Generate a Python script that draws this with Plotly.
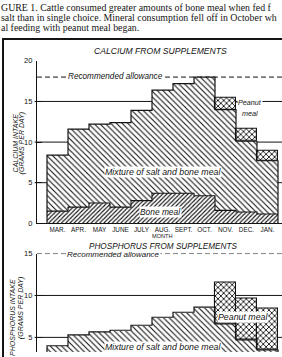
import plotly.graph_objects as go

W, H = 282, 357


def px(x):
    return x / W


def py(y):
    return 1 - y / H


# ---------------- data ----------------
months = ["MAR.", "APR.", "MAY", "JUNE", "JULY", "AUG.", "SEPT.", "OCT.", "NOV.", "DEC.", "JAN."]
ca_bone_meal = [1.5, 2.0, 2.5, 2.0, 2.8, 3.7, 3.7, 3.4, 1.6, 1.4, 1.15]
ca_mixture_top = [8.4, 11.6, 12.2, 12.4, 13.9, 16.4, 17.2, 18.0, 14.0, 10.1, 7.7]
ca_peanut_top = [None, None, None, None, None, None, None, None, 15.5, 11.6, 8.9]
p_mixture_top = [4.0, 5.3, 5.65, 5.85, 6.45, 7.4, 8.0, 8.6, 6.6, 4.7, 3.5]
p_peanut_top = [None, None, None, None, None, None, None, None, 11.5, 9.6, 8.4]
ca_recommended = 18
p_recommended = 15
ca_ticks = [0, 5, 10, 15, 20]
ca_grid = [5, 10, 15]
p_ticks = [5, 10, 15]
p_grid = [5, 10]

# caption lines as visible in the (cropped) page
caption = [
    "GURE 1. Cattle consumed greater amounts of bone meal when fed f",
    "salt than in single choice. Mineral consumption fell off in October wh",
    "al feeding with peanut meal began.",
]

n = len(months)
idx = list(range(n))
INK = "#141414"
SANS = "Liberation Sans"


def pattern(shape, size, sol):
    return dict(shape=shape, size=size, solidity=sol, fgcolor=INK,
                bgcolor="white", fillmode="replace")


fig = go.Figure()


def add_panel(xa, ya, bone, mix_top, peanut_top):
    base_mix = bone if bone is not None else [0] * n
    if bone is not None:
        fig.add_trace(go.Bar(x=idx, y=bone, base=[0] * n, width=1, xaxis=xa, yaxis=ya,
                             marker=dict(color="white", line=dict(width=0),
                                         pattern=pattern("/", 3, 0.36)),
                             showlegend=False, hoverinfo="skip"))
    fig.add_trace(go.Bar(x=idx, y=[t - b for t, b in zip(mix_top, base_mix)], base=base_mix,
                         width=1, xaxis=xa, yaxis=ya,
                         marker=dict(color="white", line=dict(width=0),
                                     pattern=pattern("\\", 4, 0.28)),
                         showlegend=False, hoverinfo="skip"))
    pk = [i for i, v in enumerate(peanut_top) if v is not None]
    fig.add_trace(go.Bar(x=pk, y=[peanut_top[i] - mix_top[i] for i in pk],
                         base=[mix_top[i] for i in pk], width=1, xaxis=xa, yaxis=ya,
                         marker=dict(color="white", line=dict(width=1.1, color=INK),
                                     pattern=pattern("x", 4, 0.4)),
                         showlegend=False, hoverinfo="skip"))
    # outline of the mixture staircase
    xs = [-0.5, -0.5] + [i + 0.5 for i in range(n)]
    ys = [0] + list(mix_top) + [0]
    fig.add_trace(go.Scatter(x=xs, y=ys, mode="lines", line=dict(color=INK, width=1.2, shape="hv"),
                             xaxis=xa, yaxis=ya, showlegend=False, hoverinfo="skip"))
    if bone is not None:
        xs = [i - 0.5 for i in range(n)] + [n - 0.5]
        ys = list(bone) + [bone[-1]]
        fig.add_trace(go.Scatter(x=xs, y=ys, mode="lines", line=dict(color=INK, width=1.1, shape="hv"),
                                 xaxis=xa, yaxis=ya, showlegend=False, hoverinfo="skip"))


add_panel("x", "y", ca_bone_meal, ca_mixture_top, ca_peanut_top)
add_panel("x2", "y2", None, p_mixture_top, p_peanut_top)

# gridlines
for v in ca_grid:
    fig.add_shape(type="line", xref="x domain", yref="y", x0=-0.01, x1=1, y0=v, y1=v,
                  layer="below", line=dict(color=INK, width=1))
for v in p_grid:
    fig.add_shape(type="line", xref="x2 domain", yref="y2", x0=-0.01, x1=1, y0=v, y1=v,
                  layer="below", line=dict(color=INK, width=1))

# recommended allowance lines
fig.add_shape(type="line", xref="x domain", yref="y", x0=0, x1=1, y0=ca_recommended, y1=ca_recommended,
              layer="below", line=dict(color=INK, width=1, dash="5px,3px"))
fig.add_shape(type="line", xref="x2 domain", yref="y2", x0=0, x1=1, y0=p_recommended, y1=p_recommended,
              layer="below", line=dict(color=INK, width=1, dash="5px,3px"))

# box border
fig.add_shape(type="path", xref="paper", yref="paper",
              path=f"M {px(3)} {py(400)} L {px(3)} {py(36)} L {px(300)} {py(36)}",
              line=dict(color=INK, width=2))
# leader from peanut label to the bar
fig.add_shape(type="line", xref="paper", yref="paper", x0=px(236.5), x1=px(240.5),
              y0=py(101), y1=py(101), line=dict(color=INK, width=1))

# axes
x_range = [-0.5 - 10 / 21, 10.5 + 4 / 21]
axis_common = dict(showgrid=False, zeroline=False, linecolor=INK, linewidth=1.2)
fig.update_layout(
    width=W, height=H, margin=dict(l=0, r=0, t=0, b=0),
    paper_bgcolor="white", plot_bgcolor="rgba(0,0,0,0)",
    barmode="overlay", bargap=0,
    xaxis=dict(domain=[px(37), 1], range=x_range, tickvals=idx, ticktext=months,
               ticks="", showline=True, anchor="y",
               tickfont=dict(family=SANS, size=6.4, color=INK), **axis_common),
    yaxis=dict(domain=[py(225), py(58.3)], range=[0, 20], tickvals=ca_ticks, ticks="inside",
               ticklen=5, tickcolor=INK, showline=True, anchor="x",
               tickfont=dict(family=SANS, size=7.5, color=INK), ticklabelstandoff=2,
               **axis_common),
    xaxis2=dict(domain=[px(37), 1], range=x_range, showticklabels=False, ticks="",
                showline=False, anchor="y2", showgrid=False, zeroline=False),
    yaxis2=dict(domain=[0, py(256)], range=[15 - (357 - 256) / 8.6, 15], tickvals=p_ticks,
                ticks="inside", ticklen=5, tickcolor=INK, showline=True, anchor="x2",
                tickfont=dict(family=SANS, size=7.5, color=INK), ticklabelstandoff=2,
                **axis_common),
)

ann = []


def label(x, y, text, size, italic=True, bg=None, angle=0, family=SANS, xanchor="center", color=INK):
    ann.append(dict(x=px(x), y=py(y), xref="paper", yref="paper", text=text, showarrow=False,
                    xanchor=xanchor, yanchor="middle", textangle=angle,
                    font=dict(family=family, size=size, color=color,
                              style="italic" if italic else "normal"),
                    bgcolor=bg, borderpad=0))


# caption
label(0, 3.5, caption[0], 9.9, italic=False, family="Liberation Serif", xanchor="left")
label(0, 13.5, caption[1], 9.9, italic=False, family="Liberation Serif", xanchor="left")
label(0, 24, caption[2], 9.9, italic=False, family="Liberation Serif", xanchor="left")

# titles
label(160, 48.5, "CALCIUM FROM SUPPLEMENTS", 8.6)
label(163, 248.5, "PHOSPHORUS FROM SUPPLEMENTS", 8.2)
label(162, 238, "MONTH", 5.6, italic=False)

# y titles
label(15, 143, "CALCIUM INTAKE", 7, angle=-90)
label(22, 143, "(GRAMS PER DAY)", 7, angle=-90)
label(13, 322, "PHOSPHORUS INTAKE", 7, angle=-90)
label(21, 312, "(GRAMS PER DAY)", 7, angle=-90)

# in-plot labels
label(115, 74, "Recommended allowance", 8.2, bg="white")
label(114, 256.5, "Recommended allowance", 8.0, bg="white")
label(163, 172.5, "Mixture of salt and bone meal", 8.8, bg="white")
label(160, 213, "Bone meal", 8.4, bg="white")
label(250, 101, "Peanut", 7.2, bg="white")
label(250, 112, "meal", 7.2, bg="white")
label(242.5, 321, "Peanut meal", 8.8, bg="white")
label(163, 352, "Mixture of salt and bone meal", 8.8, bg="white")

fig.update_layout(annotations=ann)

fig.write_html("out.html")
